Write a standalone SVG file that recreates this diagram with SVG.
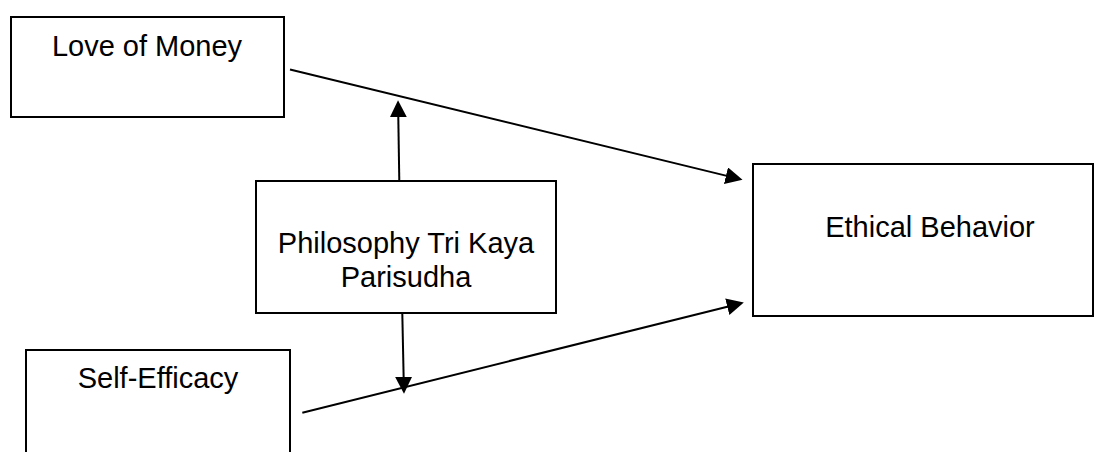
<svg xmlns="http://www.w3.org/2000/svg" width="1096" height="452" viewBox="0 0 1096 452">
<style>
.box{fill:#fff;stroke:#000;stroke-width:2}
.lbl{font-family:"Liberation Sans",Arial,sans-serif;font-size:29px;fill:#000;text-anchor:middle}
.conn{stroke:#000;stroke-width:2;fill:none;marker-end:url(#ah)}
</style>
<defs>
<marker id="ah" markerUnits="userSpaceOnUse" markerWidth="17" markerHeight="17" viewBox="0 0 15 15" refX="11" refY="7.5" orient="auto">
<path d="M0,0 L15,7.5 L0,15 z" fill="#000"/>
</marker>
</defs>
<rect width="1096" height="452" fill="#fff"/>
<g id="love-of-money">
<rect class="box" x="11" y="17" width="273" height="100"/>
<text class="lbl" x="147" y="56">Love of Money</text>
</g>
<g id="philosophy">
<rect class="box" x="256" y="181" width="300" height="132"/>
<text class="lbl" x="406" y="253">Philosophy Tri Kaya</text>
<text class="lbl" x="406" y="287">Parisudha</text>
</g>
<g id="self-efficacy">
<rect class="box" x="26" y="350" width="264" height="130"/>
<text class="lbl" x="158" y="388">Self-Efficacy</text>
</g>
<g id="ethical-behavior">
<rect class="box" x="753" y="164" width="340" height="152"/>
<text class="lbl" x="930" y="237">Ethical Behavior</text>
</g>
<g id="connectors">
<line class="conn" x1="290" y1="69.5" x2="738.1" y2="178.6"/>
<line class="conn" x1="302.3" y1="412.7" x2="739.4" y2="303.7"/>
<line class="conn" x1="399.3" y1="181" x2="398.1" y2="104.7"/>
<line class="conn" x1="402.3" y1="313" x2="403.9" y2="389.3"/>
</g>
</svg>
